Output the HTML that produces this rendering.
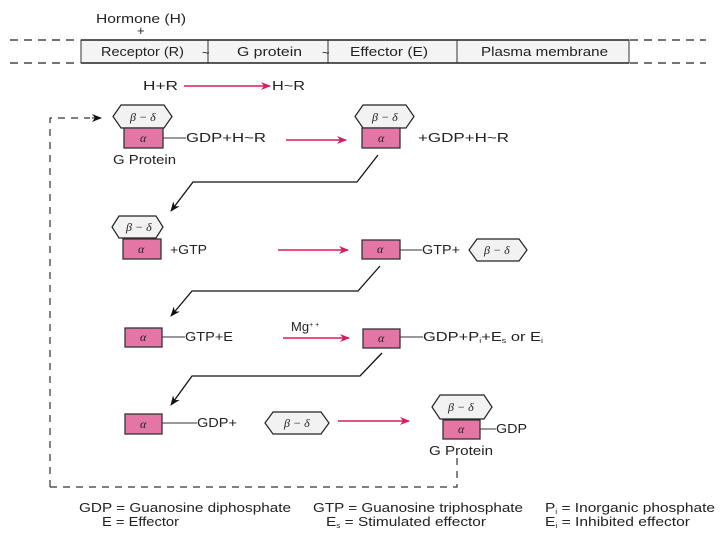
<!DOCTYPE html>
<html><head><meta charset="utf-8"><style>
html,body{margin:0;padding:0;background:#fff;}
svg{display:block;}
text{font-family:"Liberation Sans","DejaVu Sans",sans-serif;fill:#222;font-size:13px;}
.it{font-family:"Liberation Serif",serif;font-style:italic;font-size:12px;}
</style></head><body>
<svg width="720" height="540" viewBox="0 0 720 540" xmlns="http://www.w3.org/2000/svg">
<defs>
<marker id="ra" markerWidth="10" markerHeight="8" refX="9" refY="4" orient="auto" markerUnits="userSpaceOnUse"><path d="M0,0 L10,4 L0,8 L3,4 Z" fill="#d81b5a"/></marker>
<marker id="ba" markerWidth="10" markerHeight="8" refX="9" refY="4" orient="auto" markerUnits="userSpaceOnUse"><path d="M0,0 L10,4 L0,8 L3,4 Z" fill="#111"/></marker>
</defs>
<text x="96" y="23" textLength="90" lengthAdjust="spacingAndGlyphs">Hormone (H)</text>
<text x="137" y="35">+</text>
<g stroke="#222" stroke-width="1.2" stroke-dasharray="8,6">
<line x1="10" y1="40" x2="80" y2="40"/><line x1="10" y1="63" x2="80" y2="63"/>
<line x1="630" y1="40" x2="706" y2="40"/><line x1="630" y1="63" x2="706" y2="63"/>
</g>
<rect x="81" y="40" width="548" height="23" fill="#f4f4f4" stroke="#333" stroke-width="1"/>
<line x1="81" y1="40" x2="629" y2="40" stroke="#222" stroke-width="1.5"/>
<line x1="81" y1="63" x2="629" y2="63" stroke="#222" stroke-width="1.5"/>
<line x1="208" y1="40" x2="208" y2="63" stroke="#333"/>
<line x1="328" y1="40" x2="328" y2="63" stroke="#333"/>
<line x1="457" y1="40" x2="457" y2="63" stroke="#333"/>
<text x="101" y="56" textLength="83" lengthAdjust="spacingAndGlyphs">Receptor (R)</text>
<text x="202" y="57" font-size="10">~</text>
<text x="237" y="56" textLength="65" lengthAdjust="spacingAndGlyphs">G protein</text>
<text x="322" y="57" font-size="10">~</text>
<text x="350" y="56" textLength="78" lengthAdjust="spacingAndGlyphs">Effector (E)</text>
<text x="481" y="56" textLength="127" lengthAdjust="spacingAndGlyphs">Plasma membrane</text>

<text x="143" y="90" textLength="35" lengthAdjust="spacingAndGlyphs">H+R</text>
<line x1="184" y1="86" x2="270" y2="86" stroke="#d81b5a" stroke-width="1.5" marker-end="url(#ra)"/>
<text x="272" y="90" textLength="33" lengthAdjust="spacingAndGlyphs">H~R</text>

<g stroke="#333" stroke-width="1.2" stroke-dasharray="7,6" fill="none">
<path d="M50,487 L50,118 L90,118"/>
<path d="M50,487 L457,487 L457,458"/>
</g>
<line x1="92" y1="118" x2="101" y2="118" stroke="#111" marker-end="url(#ba)"/>

<polygon points="113,116.5 121,105 164,105 172,116.5 164,128 121,128" fill="#f2f2f2" stroke="#222" stroke-width="1.2"/>
<text x="130" y="121" class="it">β − δ</text>
<rect x="124" y="128" width="39" height="20" fill="#e476a6" stroke="#333" stroke-width="1.3"/>
<text x="140" y="142" class="it" font-size="10">α</text>
<line x1="163" y1="138" x2="186" y2="138" stroke="#333"/>
<text x="186" y="142" textLength="80" lengthAdjust="spacingAndGlyphs">GDP+H~R</text>
<text x="113" y="164" textLength="63" lengthAdjust="spacingAndGlyphs">G Protein</text>
<line x1="286" y1="140" x2="346" y2="140" stroke="#d81b5a" stroke-width="1.5" marker-end="url(#ra)"/>
<polygon points="355,116.5 363,105 406,105 414,116.5 406,128 363,128" fill="#f2f2f2" stroke="#222" stroke-width="1.2"/>
<text x="372" y="121" class="it">β − δ</text>
<rect x="362" y="128" width="38" height="20" fill="#e476a6" stroke="#333" stroke-width="1.3"/>
<text x="378" y="142" class="it" font-size="10">α</text>
<text x="418" y="142" textLength="91" lengthAdjust="spacingAndGlyphs">+GDP+H~R</text>

<path d="M378,155 L357,182 L193,182 L171,211" fill="none" stroke="#111" stroke-width="1.3" marker-end="url(#ba)"/>

<polygon points="112,227 119,216 156,216 163,227 156,238 119,238" fill="#f2f2f2" stroke="#222" stroke-width="1.2"/>
<text x="126" y="231" class="it">β − δ</text>
<rect x="123" y="239" width="38" height="20" fill="#e476a6" stroke="#333" stroke-width="1.3"/>
<text x="138" y="253" class="it" font-size="10">α</text>
<text x="170" y="254" textLength="37" lengthAdjust="spacingAndGlyphs">+GTP</text>
<line x1="278" y1="250" x2="348" y2="250" stroke="#d81b5a" stroke-width="1.5" marker-end="url(#ra)"/>
<rect x="362" y="240" width="38" height="19" fill="#e476a6" stroke="#333" stroke-width="1.3"/>
<text x="377" y="253" class="it" font-size="10">α</text>
<line x1="400" y1="250" x2="422" y2="250" stroke="#333"/>
<text x="422" y="254" textLength="38" lengthAdjust="spacingAndGlyphs">GTP+</text>
<polygon points="469,250 477,239 519,239 527,250 519,261 477,261" fill="#f2f2f2" stroke="#222" stroke-width="1.2"/>
<text x="484" y="254" class="it">β − δ</text>

<path d="M380,266 L358,291 L192,291 L171,316" fill="none" stroke="#111" stroke-width="1.3" marker-end="url(#ba)"/>

<rect x="125" y="328" width="37" height="19" fill="#e476a6" stroke="#333" stroke-width="1.3"/>
<text x="140" y="341" class="it" font-size="10">α</text>
<line x1="162" y1="337" x2="185" y2="337" stroke="#333"/>
<text x="185" y="341" textLength="48" lengthAdjust="spacingAndGlyphs">GTP+E</text>
<text x="291" y="331" font-size="12">Mg<tspan font-size="7" dy="-4">+ +</tspan></text>
<line x1="283" y1="338" x2="349" y2="338" stroke="#d81b5a" stroke-width="1.5" marker-end="url(#ra)"/>
<rect x="363" y="329" width="37" height="19" fill="#e476a6" stroke="#333" stroke-width="1.3"/>
<text x="378" y="342" class="it" font-size="10">α</text>
<line x1="400" y1="337" x2="423" y2="337" stroke="#333"/>
<text x="423" y="341" textLength="120" lengthAdjust="spacingAndGlyphs">GDP+P<tspan font-size="7" dy="2">i</tspan><tspan dy="-2">+E</tspan><tspan font-size="7" dy="2">s</tspan><tspan dy="-2"> or E</tspan><tspan font-size="7" dy="2">i</tspan></text>

<path d="M382,353 L360,376 L192,376 L171,405" fill="none" stroke="#111" stroke-width="1.3" marker-end="url(#ba)"/>

<rect x="125" y="414" width="37" height="20" fill="#e476a6" stroke="#333" stroke-width="1.3"/>
<text x="140" y="428" class="it" font-size="10">α</text>
<line x1="162" y1="423" x2="197" y2="423" stroke="#333"/>
<text x="197" y="427" textLength="40" lengthAdjust="spacingAndGlyphs">GDP+</text>
<polygon points="265,423 273,412 321,412 329,423 321,434 273,434" fill="#f2f2f2" stroke="#222" stroke-width="1.2"/>
<text x="284" y="427" class="it">β − δ</text>
<line x1="338" y1="421" x2="409" y2="421" stroke="#d81b5a" stroke-width="1.5" marker-end="url(#ra)"/>
<polygon points="432,407 440,395 484,395 492,407 484,419 440,419" fill="#f2f2f2" stroke="#222" stroke-width="1.2"/>
<text x="448" y="411" class="it">β − δ</text>
<rect x="443" y="420" width="37" height="19" fill="#e476a6" stroke="#333" stroke-width="1.3"/>
<text x="458" y="433" class="it" font-size="10">α</text>
<line x1="480" y1="429" x2="496" y2="429" stroke="#333"/>
<text x="496" y="433" textLength="31" lengthAdjust="spacingAndGlyphs">GDP</text>
<text x="429" y="455" textLength="64" lengthAdjust="spacingAndGlyphs">G Protein</text>

<text x="79" y="512" textLength="212" lengthAdjust="spacingAndGlyphs">GDP = Guanosine diphosphate</text>
<text x="102" y="526" textLength="77" lengthAdjust="spacingAndGlyphs">E = Effector</text>
<text x="313" y="512" textLength="210" lengthAdjust="spacingAndGlyphs">GTP = Guanosine triphosphate</text>
<text x="326" y="526" textLength="160" lengthAdjust="spacingAndGlyphs">E<tspan font-size="7" dy="2">s</tspan><tspan dy="-2"> = Stimulated effector</tspan></text>
<text x="545" y="512" textLength="170" lengthAdjust="spacingAndGlyphs">P<tspan font-size="7" dy="2">i</tspan><tspan dy="-2"> = Inorganic phosphate</tspan></text>
<text x="545" y="526" textLength="145" lengthAdjust="spacingAndGlyphs">E<tspan font-size="7" dy="2">i</tspan><tspan dy="-2"> = Inhibited effector</tspan></text>
</svg>
</body></html>
